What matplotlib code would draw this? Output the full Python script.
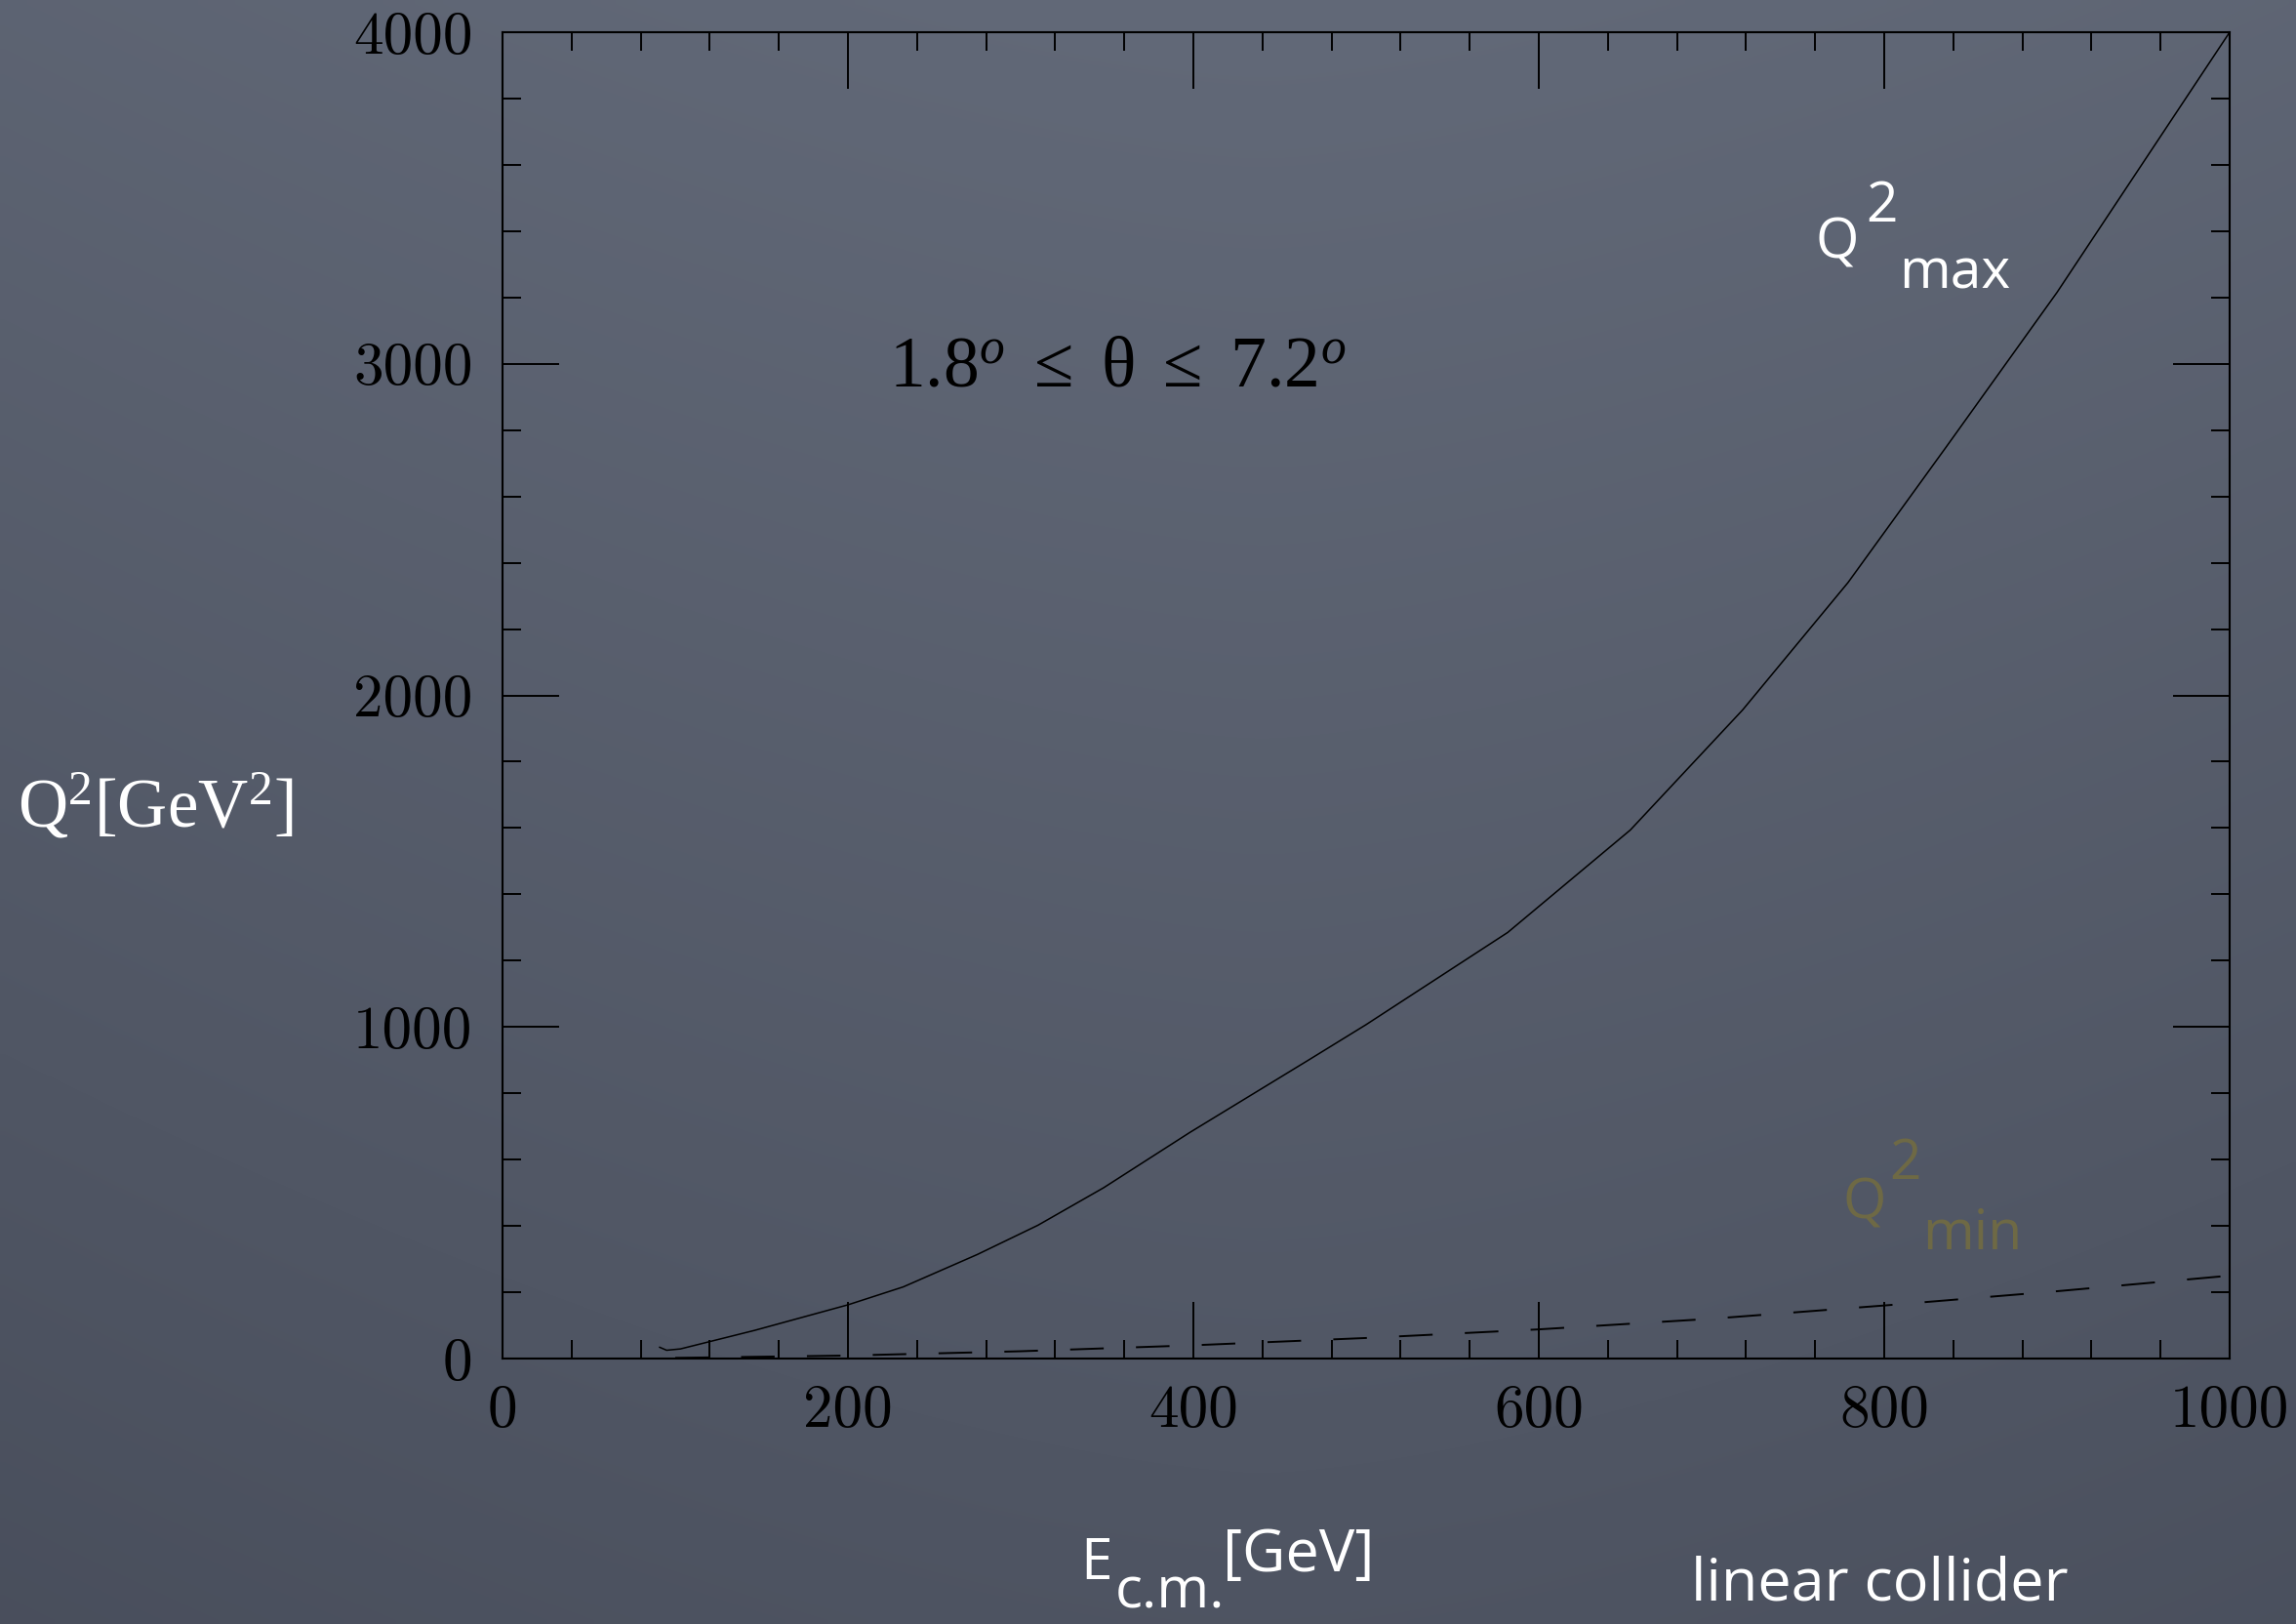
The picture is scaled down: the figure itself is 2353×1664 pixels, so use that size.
import numpy as np
import matplotlib
matplotlib.use("Agg")
import matplotlib.pyplot as plt
from matplotlib.ticker import MultipleLocator

# ---- data ----
E_max = [91, 95, 103, 146, 200, 232, 275, 310, 348, 398, 466, 500, 582, 653, 718, 779, 836, 900, 1000]
Q2_max = [34, 25, 29, 85, 162, 216, 314, 402, 515, 682, 898, 1007, 1285, 1594, 1956, 2340, 2750, 3215, 4000]

E_min = [100, 200, 300, 400, 500, 600, 700, 800, 900, 1000]
Q2_min = [2, 9, 22, 40, 62, 88, 120, 160, 203, 250]

x_ticks = [0, 200, 400, 600, 800, 1000]
x_ticklabels = ["0", "200", "400", "600", "800", "1000"]
y_ticks = [0, 1000, 2000, 3000, 4000]
y_ticklabels = ["0", "1000", "2000", "3000", "4000"]

plt.rcParams['mathtext.fontset'] = 'custom'
plt.rcParams['mathtext.rm'] = 'Liberation Serif'
plt.rcParams['mathtext.it'] = 'Liberation Serif:italic'
plt.rcParams['mathtext.bf'] = 'Liberation Serif:bold'

W, H = 2353, 1664
fig = plt.figure(figsize=(W / 100, H / 100), dpi=100)

# chalkboard-like background (smooth shading)
bg = fig.add_axes([0, 0, 1, 1], zorder=-10)
yy, xx = np.mgrid[0:1:200j, 0:1:280j]
b = 1.0 - 0.55 * yy - 0.35 * np.abs(xx - 0.55) ** 1.5
b = np.clip(b, 0, 1)
dark = np.array([62, 67, 80]) / 255
light = np.array([98, 105, 120]) / 255
img = dark[None, None, :] + (light - dark)[None, None, :] * b[..., None]
bg.imshow(img, extent=[0, 1, 0, 1], aspect='auto', origin='upper', interpolation='bilinear')
bg.set_axis_off()

def fx(px):
    return px / W

def fy(py):
    return 1 - py / H

L, R, T, B = 515, 2285, 33, 1392
ax = fig.add_axes([fx(L), fy(B), fx(R - L), (B - T) / H])
ax.set_facecolor('none')

ax.plot(E_max, Q2_max, color='black', lw=1.1)
ax.plot(E_min, Q2_min, color='black', lw=1.4, linestyle=(0, (17.7, 17.0)))

ax.set_xlim(0, 1000)
ax.set_ylim(0, 4000)
ax.set_xticks(x_ticks)
ax.set_xticklabels(x_ticklabels)
ax.set_yticks(y_ticks)
ax.set_yticklabels(y_ticklabels)
ax.xaxis.set_minor_locator(MultipleLocator(40))
ax.yaxis.set_minor_locator(MultipleLocator(200))
ax.tick_params(which='both', direction='in', top=True, right=True, color='black', width=1.4)
ax.tick_params(which='major', length=41.8)
ax.tick_params(which='minor', length=13.7)
ax.tick_params(axis='x', which='major', pad=19)
ax.tick_params(axis='y', which='major', pad=22)
for lab in ax.get_xticklabels() + ax.get_yticklabels():
    lab.set_fontfamily('cmr10')
    lab.set_fontsize(44)
    lab.set_color('black')
for s in ax.spines.values():
    s.set_linewidth(1.5)
    s.set_color('black')

# annotation inside
fig.text(fx(911), fy(395), r'$\mathrm{1.8}^{o}\ \leq\ \mathrm{\theta}\ \leq\ \mathrm{7.2}^{o}$',
         fontsize=53, color='black', ha='left', va='baseline')

# y label
fig.text(fx(18), fy(847), r'$\mathrm{Q^{2}[GeV^{2}]}$', fontsize=51, color='white',
         ha='left', va='baseline')

chalk = 'Open Sans'
# Q^2_max label
fig.text(fx(1861), fy(265), 'Q', fontsize=41, family=chalk, color='white', va='baseline')
fig.text(fx(1912), fy(227), '2', fontsize=41, family=chalk, color='white', va='baseline')
fig.text(fx(1946), fy(295), 'max', fontsize=41, family=chalk, color='white', va='baseline')

# Q^2_min label
qmin_c = '#6e6945'
fig.text(fx(1888), fy(1248), 'Q', fontsize=41, family=chalk, color=qmin_c, va='baseline')
fig.text(fx(1936), fy(1208), '2', fontsize=41, family=chalk, color=qmin_c, va='baseline')
fig.text(fx(1970), fy(1280), 'min', fontsize=41, family=chalk, color=qmin_c, va='baseline')

# x label
fig.text(fx(1107), fy(1618), 'E', fontsize=42, family=chalk, color='white', va='baseline')
fig.text(fx(1143), fy(1648), 'c.m.', fontsize=42, family=chalk, color='white', va='baseline')
fig.text(fx(1253), fy(1610), '[GeV]', fontsize=44, family=chalk, color='white', va='baseline')

fig.text(fx(1733), fy(1640), 'linear collider', fontsize=44, family=chalk, color='white',
         va='baseline')

fig.savefig('out.png', dpi=100)
